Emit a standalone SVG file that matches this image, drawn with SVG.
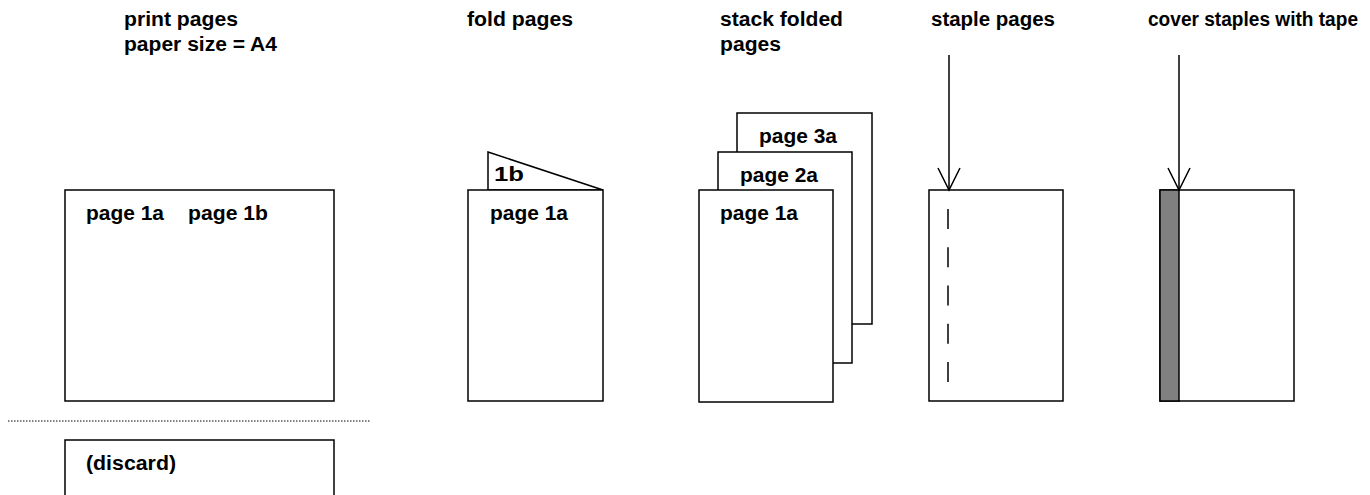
<svg xmlns="http://www.w3.org/2000/svg" width="1370" height="495" viewBox="0 0 1370 495">
  <style>
    text { font-family: "Liberation Sans", Arial, sans-serif; font-weight: bold; font-size: 19.5px; fill: #000; }
    .sheet { fill: #fff; stroke: #000; stroke-width: 1.5; }
    .tape { fill: #808080; stroke: #000; stroke-width: 1.5; }
    .staples { stroke: #000; stroke-width: 1.5; stroke-dasharray: 20 18.25; fill: none; }
    .cut { stroke: #000; stroke-width: 1; stroke-dasharray: 1.5 1.5; fill: none; }
    .feed { stroke: #000; stroke-width: 1.5; fill: none; marker-end: url(#vhead); }
  </style>
  <defs>
    <marker id="vhead" markerUnits="userSpaceOnUse" markerWidth="30" markerHeight="30" viewBox="-25 -15 30 30" refX="0" refY="0" orient="auto" overflow="visible">
      <path d="M-22,-11 L0,0 L-22,11" fill="none" stroke="#000" stroke-width="1.5"/>
    </marker>
  </defs>

  <rect width="1370" height="495" fill="#fff"/>

  <!-- step headings -->
  <g id="headings">
    <text x="124" y="26" textLength="114" lengthAdjust="spacingAndGlyphs">print pages</text>
    <text x="124" y="51" textLength="153" lengthAdjust="spacingAndGlyphs">paper size = A4</text>
    <text x="467" y="26" textLength="106" lengthAdjust="spacingAndGlyphs">fold pages</text>
    <text x="720" y="26" textLength="123" lengthAdjust="spacingAndGlyphs">stack folded</text>
    <text x="720" y="51" textLength="61" lengthAdjust="spacingAndGlyphs">pages</text>
    <text x="931" y="26" textLength="124" lengthAdjust="spacingAndGlyphs">staple pages</text>
    <text x="1148" y="26" textLength="210" lengthAdjust="spacingAndGlyphs">cover staples with tape</text>
  </g>

  <!-- step 1: printed A4 sheet -->
  <g id="printed-sheet">
    <rect class="sheet" x="65" y="190" width="269" height="211"/>
    <text x="86" y="220" textLength="78" lengthAdjust="spacingAndGlyphs">page 1a</text>
    <text x="188" y="220" textLength="80" lengthAdjust="spacingAndGlyphs">page 1b</text>
  </g>

  <!-- cut line -->
  <line id="cut-line" class="cut" x1="8" y1="421" x2="370" y2="421"/>

  <!-- offcut -->
  <g id="discard-sheet">
    <rect class="sheet" x="65" y="440" width="269" height="80"/>
    <text x="86" y="470" textLength="90" lengthAdjust="spacingAndGlyphs">(discard)</text>
  </g>

  <!-- step 2: folded sheet -->
  <g id="folded-sheet">
    <polygon class="sheet" points="488,152 603,190 488,190"/>
    <text x="494" y="181" textLength="30" lengthAdjust="spacingAndGlyphs">1b</text>
    <rect class="sheet" x="468" y="190" width="135" height="211"/>
    <text x="490" y="220" textLength="78" lengthAdjust="spacingAndGlyphs">page 1a</text>
  </g>

  <!-- step 3: stacked sheets -->
  <g id="stack">
    <rect class="sheet" x="737" y="113" width="135" height="211"/>
    <text x="759" y="143" textLength="78" lengthAdjust="spacingAndGlyphs">page 3a</text>
    <rect class="sheet" x="718" y="152" width="134" height="211"/>
    <text x="740" y="182" textLength="78" lengthAdjust="spacingAndGlyphs">page 2a</text>
    <rect class="sheet" x="699" y="190" width="134" height="212"/>
    <text x="720" y="220" textLength="78" lengthAdjust="spacingAndGlyphs">page 1a</text>
  </g>

  <!-- step 4: stapled booklet -->
  <g id="stapled-booklet">
    <rect class="sheet" x="929" y="190" width="134" height="211"/>
    <line class="staples" x1="948" y1="209" x2="948" y2="382"/>
  </g>

  <!-- step 5: taped spine -->
  <g id="taped-booklet">
    <rect class="sheet" x="1160" y="190" width="134" height="211"/>
    <rect class="tape" x="1160" y="190" width="19" height="211"/>
  </g>

  <!-- arrows into the spine -->
  <g id="connectors">
    <line class="feed" x1="949" y1="55" x2="949" y2="190"/>
    <line class="feed" x1="1179" y1="55" x2="1179" y2="190"/>
  </g>
</svg>
